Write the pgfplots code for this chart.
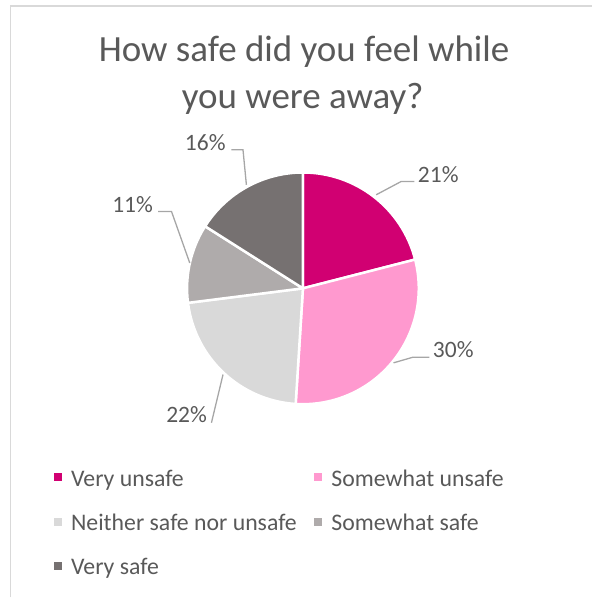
\documentclass[border=0pt]{standalone}
\usepackage{pgfplots}
\usepackage{pgfplotstable}
\pgfplotsset{compat=1.18}
\usepackage{fontspec}
\setmainfont{Carlito}
\definecolor{txt}{HTML}{595959}
\definecolor{cA}{HTML}{D10072}
\definecolor{cB}{HTML}{FF99CF}
\definecolor{cC}{HTML}{D9D9D9}
\definecolor{cD}{HTML}{AFABAB}
\definecolor{cE}{HTML}{767171}
\definecolor{lead}{HTML}{A6A6A6}
\definecolor{frame}{HTML}{D9D9D9}

\pgfplotstableread[col sep=comma]{
label,value
Very unsafe,21
Somewhat unsafe,30
Neither safe nor unsafe,22
Somewhat safe,11
Very safe,16
}\piedata

\pgfplotstablegetelem{0}{value}\of\piedata\pgfmathtruncatemacro\vA{\pgfplotsretval}
\pgfplotstablegetelem{1}{value}\of\piedata\pgfmathtruncatemacro\vB{\pgfplotsretval}
\pgfplotstablegetelem{2}{value}\of\piedata\pgfmathtruncatemacro\vC{\pgfplotsretval}
\pgfplotstablegetelem{3}{value}\of\piedata\pgfmathtruncatemacro\vD{\pgfplotsretval}
\pgfplotstablegetelem{4}{value}\of\piedata\pgfmathtruncatemacro\vE{\pgfplotsretval}
\pgfmathsetmacro\aA{90}
\pgfmathsetmacro\aB{\aA-3.6*\vA}
\pgfmathsetmacro\aC{\aB-3.6*\vB}
\pgfmathsetmacro\aD{\aC-3.6*\vC}
\pgfmathsetmacro\aE{\aD-3.6*\vD}
\pgfmathsetmacro\aF{\aE-3.6*\vE}
\def\cx{303.3}
\def\cy{288.7}
\def\R{116}
\newcommand\pwedge[3]{%
  \path[fill=#1, draw=white, line width=2.5pt, line join=round]
    (axis cs:\cx,\cy) -- ([shift={(#2:\R pt)}]axis cs:\cx,\cy)
    arc[start angle=#2, end angle=#3, radius=\R pt] -- cycle;}
\newcommand\legitem[4]{% x y color text
  \fill[#3] (axis cs:#1-17,#2-12.7) rectangle (axis cs:#1-9,#2-4.7);
  \node[anchor=base west, inner sep=0pt, text=txt, font=\fontsize{23.8}{28}\selectfont] at (axis cs:#1,#2) {#4};}

\begin{document}
\begin{tikzpicture}
\begin{axis}[width=593pt, height=598pt, scale only axis,
  xmin=0, xmax=593, ymin=0, ymax=598, y dir=reverse,
  axis lines=none, clip=false]
  % page extent
  \path (axis cs:0,0) rectangle (axis cs:593,598);
  % frame
  \draw[frame, line width=1.5pt] (axis cs:10.5,598) -- (axis cs:10.5,6) -- (axis cs:593,6);
  % title
  \node[anchor=base, inner sep=0pt, text=txt, font=\fontsize{37}{42}\selectfont] at (axis cs:304.5,62) {How safe did you feel while};
  \node[anchor=base, inner sep=0pt, text=txt, font=\fontsize{37}{42}\selectfont] at (axis cs:303,109) {you were away?};
  % pie
  \pwedge{cA}{\aA}{\aB}
  \pwedge{cB}{\aB}{\aC}
  \pwedge{cC}{\aC}{\aD}
  \pwedge{cD}{\aD}{\aE}
  \pwedge{cE}{\aE}{\aF}
  % leader lines
  \draw[lead, line width=1.3pt] (axis cs:415,181.7) -- (axis cs:401.7,181.7) -- (axis cs:376.7,195);
  \draw[lead, line width=1.3pt] (axis cs:430,357.7) -- (axis cs:413.3,357.7) -- (axis cs:394,363.3);
  \draw[lead, line width=1.3pt] (axis cs:211.7,423.3) -- (axis cs:223.3,375);
  \draw[lead, line width=1.3pt] (axis cs:158.3,211.7) -- (axis cs:171.7,211.7) -- (axis cs:190,263.3);
  \draw[lead, line width=1.3pt] (axis cs:231.7,150) -- (axis cs:243.3,150) -- (axis cs:246.7,185);
  % data labels
  \begin{scope}[every node/.style={inner sep=0pt, text=txt, font=\fontsize{23.5}{27}\selectfont}]
  \node[anchor=base west] at (axis cs:418.3,182.3) {\vA\%};
  \node[anchor=base west] at (axis cs:433.3,358.3) {\vB\%};
  \node[anchor=base east] at (axis cs:207.3,422.7) {\vC\%};
  \node[anchor=base east] at (axis cs:153.3,212.7) {\vD\%};
  \node[anchor=base east] at (axis cs:226,150.7) {\vE\%};
  \end{scope}
  % legend
  \legitem{71}{486.7}{cA}{Very unsafe}
  \legitem{331.7}{486.7}{cB}{Somewhat unsafe}
  \legitem{71}{531}{cC}{Neither safe nor unsafe}
  \legitem{331.7}{531}{cD}{Somewhat safe}
  \legitem{71}{575}{cE}{Very safe}
\end{axis}
\end{tikzpicture}
\end{document}
